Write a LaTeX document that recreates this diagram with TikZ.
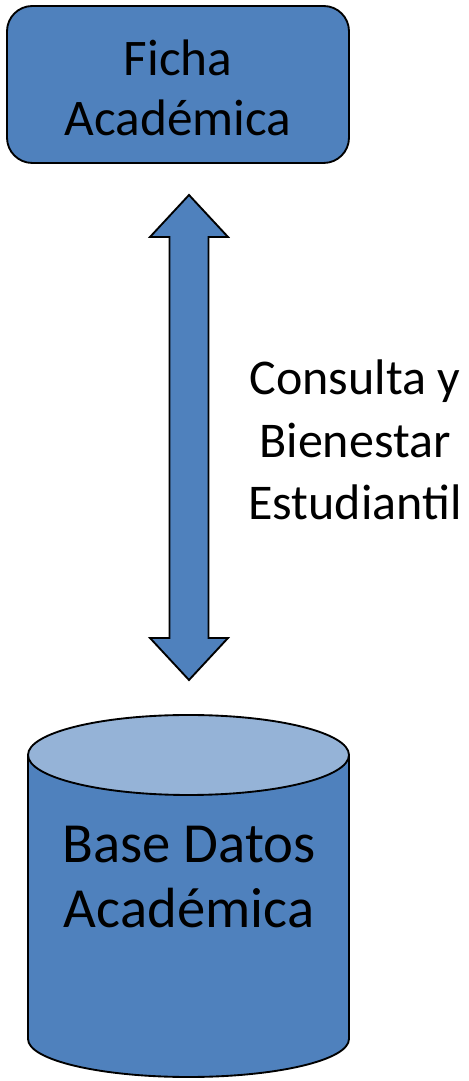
\documentclass[tikz,border=0pt]{standalone}
\usepackage{fontspec}
\setmainfont{Carlito}
\definecolor{boxblue}{HTML}{4F81BD}
\definecolor{topblue}{HTML}{95B3D7}
\begin{document}
\begin{tikzpicture}[
    x=0.75pt,
    y=0.75pt,
    line width=1.4pt,
    every node/.style={font=\fontsize{38.5}{45}\selectfont, align=center}
]

    \useasboundingbox (0,0) rectangle (468,1081);

    % ficha
    \draw[fill=boxblue, rounded corners=19pt] (7,918) rectangle (349,1075);
    \node (ficha) at (178,993) {Ficha\\Académica};

    % flecha doble
    \coordinate (up) at (189,886);
    \coordinate (down) at (189,401);
    \draw[fill=boxblue, line join=miter] (up) -- (228,844) -- (208.5,844) -- (208.5,443) -- (228,443)
        -- (down) -- (150,443) -- (169.5,443) -- (169.5,844) -- (150,844) -- cycle;
    \node[font=\fontsize{37.5}{47}\selectfont] (consulta) at (355,641) {Consulta y\\Bienestar\\Estudiantil};

    % base de datos
    \draw[fill=boxblue] (28,326) -- (28,42) arc[start angle=180, end angle=360, x radius=160.5, y radius=38] -- (349,326);
    \draw[fill=topblue] (188.5,326) ellipse [x radius=160.5, y radius=40];
    \node[font=\fontsize{42.5}{49}\selectfont] (base) at (189,204) {Base Datos\\Académica};

\end{tikzpicture}
\end{document}
